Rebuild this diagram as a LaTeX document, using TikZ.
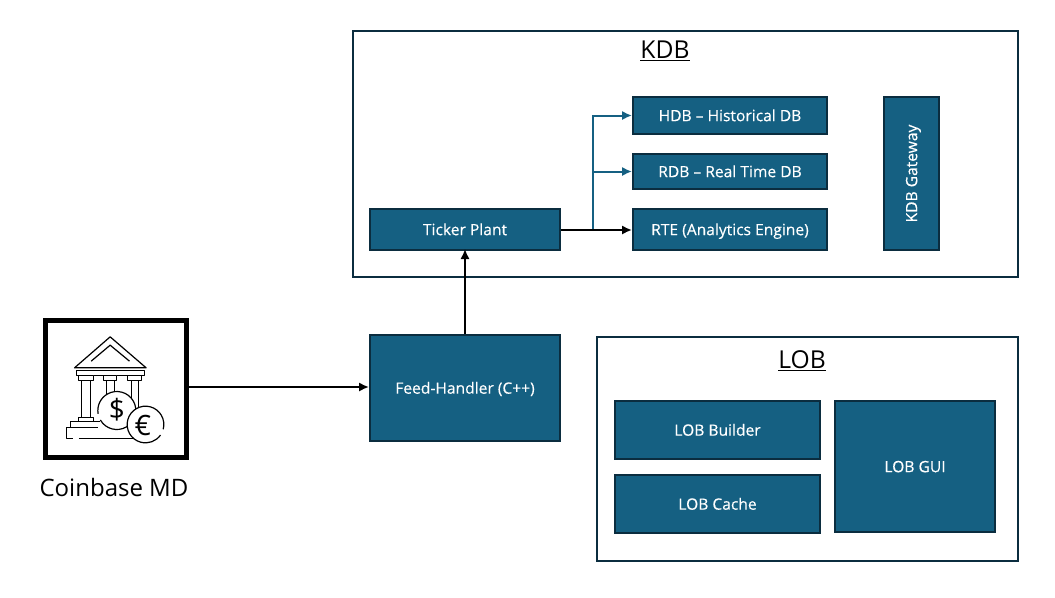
\documentclass[tikz,border=0pt]{standalone}
\usepackage{fontspec}
\setmainfont{Open Sans}
\newfontfamily\boxfont{Open Sans}[RawFeature={embolden=0.25}]
\usetikzlibrary{arrows.meta}
\definecolor{boxfill}{HTML}{156082}
\definecolor{boxline}{HTML}{0B2D3F}
\definecolor{shadowc}{HTML}{C4C4C4}
\tikzset{
  x=0.75pt,y=-0.75pt,
  bluebox/.style={draw=boxline,line width=1.5pt,fill=boxfill,text=white,font=\boxfont\fontsize{11.7}{13}\selectfont,inner sep=0pt,anchor=north west,text height=8.5pt,text depth=0pt},
  panel/.style={draw=boxline,line width=1.5pt,fill=white,inner sep=0pt,anchor=north west},
  paneltitle/.style={font=\fontsize{18.5}{20}\selectfont,inner sep=0pt},
  conn/.style={draw=black,line width=1.5pt,-{Latex[length=7.5pt,width=7pt]}},
  bconn/.style={draw=boxfill,line width=1.5pt,-{Latex[length=7.5pt,width=7pt]}},
  bline/.style={draw=boxfill,line width=1.5pt},
  ic/.style={draw=black,line width=0.9pt,fill=white,line join=round}
}
\begin{document}
\begin{tikzpicture}
\useasboundingbox (1,1) rectangle (1056,598);
% panels
\node[panel,minimum width=665*0.75pt,minimum height=246*0.75pt] (kdb) at (353,31) {};
\node[panel,minimum width=421*0.75pt,minimum height=224*0.75pt] (lob) at (597,337) {};
\node[paneltitle] (kdbt) at (666,52) {\underline{KDB}};
\node[paneltitle] (lobt) at (803,362) {\underline{LOB}};
% boxes
\node[bluebox,minimum width=190*0.75pt,minimum height=41*0.75pt] (tp) at (370,209) {Ticker Plant};
\node[bluebox,minimum width=194*0.75pt,minimum height=37*0.75pt] (hdb) at (633,97) {HDB – Historical DB};
\node[bluebox,minimum width=194*0.75pt,minimum height=35*0.75pt] (rdb) at (633,154) {RDB – Real Time DB};
\node[bluebox,minimum width=194*0.75pt,minimum height=41*0.75pt] (rte) at (633,209) {RTE (Analytics Engine)};
\node[bluebox,minimum width=55*0.75pt,minimum height=153*0.75pt] (gw) at (884,97) {};
\node[text=white,font=\boxfont\fontsize{11.7}{13}\selectfont,rotate=90,inner sep=0pt,text height=8.5pt,text depth=0pt] (gwt) at (gw.center) {KDB Gateway};
\node[bluebox,minimum width=190*0.75pt,minimum height=106*0.75pt] (fh) at (370,335) {Feed-Handler (C++)};
\node[bluebox,minimum width=205*0.75pt,minimum height=58*0.75pt] (lb) at (615,401) {LOB Builder};
\node[bluebox,minimum width=205*0.75pt,minimum height=58*0.75pt] (lc) at (615,475) {LOB Cache};
\node[bluebox,minimum width=160*0.75pt,minimum height=131*0.75pt] (lg) at (835,401) {LOB GUI};
% source icon
\fill[shadowc] (45,322) rectangle (189,460);
\node[draw=black,line width=3.6pt,fill=white,minimum width=141*0.75pt,minimum height=137*0.75pt,inner sep=0pt,anchor=north west] (src) at (44,319) {};
\node[inner sep=0pt,font=\fontsize{18}{20}\selectfont] (srct) at (115,488) {Coinbase MD};
\begin{scope}[shift={(30.5,305.5)},x=0.25pt,y=-0.25pt]
  \draw[ic] (135,190) -- (242,97) -- (350,190) -- cycle;
  \draw[ic] (185,170) -- (242,122) -- (300,170);
  \draw[ic] (140,198) rectangle (345,212);
  \draw[ic] (147,212) rectangle (192,228);
  \draw[ic] (222,212) rectangle (262,228);
  \draw[ic] (295,212) rectangle (335,228);
  \draw[ic] (157,228) rectangle (183,340);
  \draw[ic] (232,228) rectangle (255,290);
  \draw[ic] (307,228) rectangle (328,320);
  \draw[ic] (147,340) rectangle (193,352);
  \draw[ic] (122,352) -- (122,370) (122,352) -- (210,352);
  \draw[ic] (130,402) -- (110,402) -- (110,370) -- (205,370);
  \draw[ic] (148,402) -- (310,402);
  \fill[white] (262,318) circle [radius=57];
  \draw[ic,fill=none] (262,318) ++(150:57) arc[start angle=150,end angle=-190,radius=57];
  \fill[white] (348,360) circle [radius=55];
  \draw[ic,fill=none] (348,360) ++(15:55) arc[start angle=15,end angle=-325,radius=55];
  \node[inner sep=0pt,font=\fontsize{21}{23}\selectfont] (dollar) at (262,316) {\$};
  \node[inner sep=0pt,font=\fontsize{21}{23}\selectfont] (euro) at (340,362) {€};
\end{scope}
% connectors
\coordinate (j) at (594,231);
\draw[bline] (tp.east |- 0,231) -- (j);
\draw[bconn] (j) |- (hdb.west);
\draw[bconn] (j) |- (rdb.west);
\draw[conn] (tp.east |- 0,231) -- (rte.west |- 0,231);
\draw[conn] (src.east |- 0,388) -- (fh.west |- 0,388);
\draw[conn] (466,335) -- (466,250);
\end{tikzpicture}
\end{document}
